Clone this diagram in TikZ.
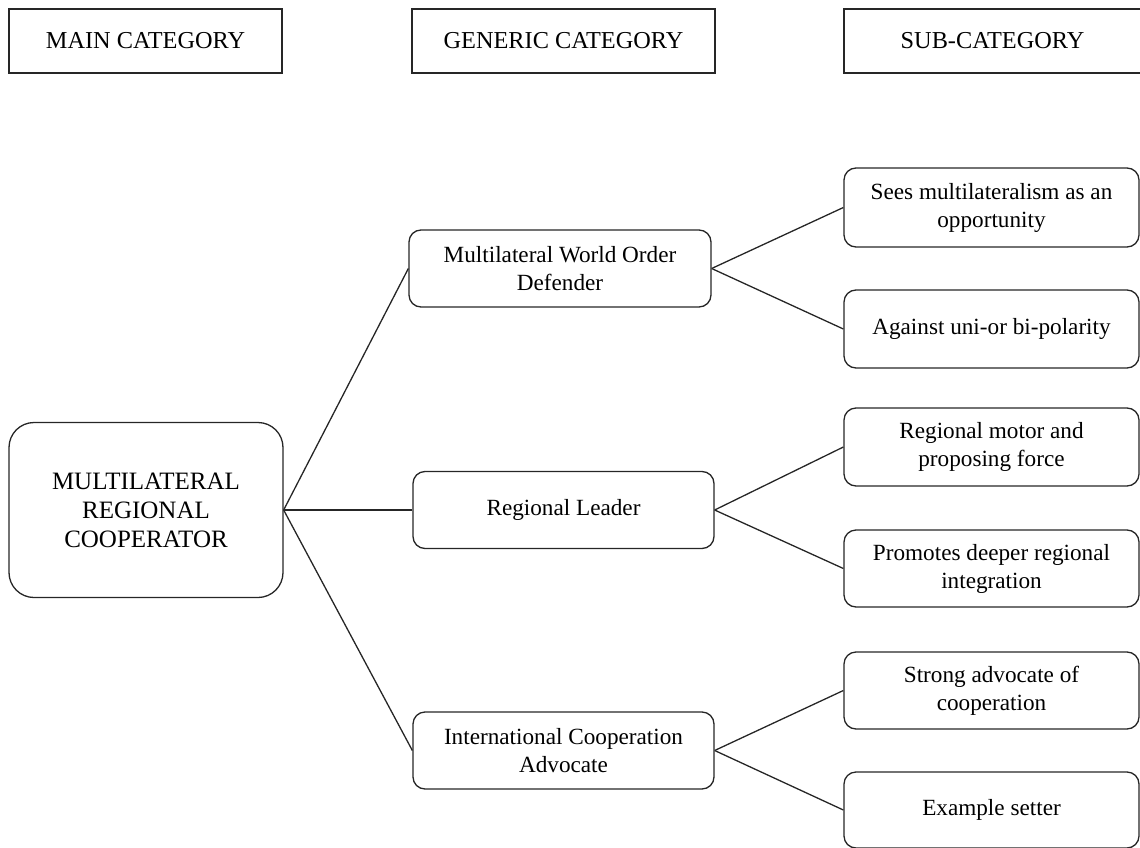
\documentclass[tikz,border=0pt]{standalone}
\usepackage{fontspec}
\setmainfont{Liberation Serif}
\begin{document}
\begin{tikzpicture}[x=1pt,y=-1pt,
  box/.style={draw=black!85, line width=1.3pt, rounded corners=12pt, align=center, inner sep=0pt, font=\fontsize{23.2}{28}\selectfont},
  head/.style={draw=black!85, line width=1.3pt, align=center, inner sep=0pt, minimum height=64pt, font=\fontsize{24.3}{28}\selectfont},
  gen/.style={box, minimum width=301pt, minimum height=77pt},
  sub/.style={box, minimum width=295pt, minimum height=78pt},
  link/.style={draw=black!85, line width=1.3pt}]
\useasboundingbox (0,0) rectangle (1140,848);
% headers
\node[head, minimum width=273pt] (h1) at (145.5,41) {MAIN CATEGORY};
\node[head, minimum width=303pt] (h2) at (563.5,41) {GENERIC CATEGORY};
\node[head, minimum width=297pt] (h3) at (992.5,41) {SUB-CATEGORY};
% main
\node[box, rounded corners=25pt, minimum width=274pt, minimum height=175pt,
      font=\fontsize{25}{29}\selectfont] (m) at (146,510) {MULTILATERAL\\REGIONAL\\COOPERATOR};
% generic
\node[gen, minimum width=302pt] (g1) at (560,268.5) {Multilateral World Order\\Defender};
\node[gen] (g2) at (563.5,510) {Regional Leader};
\node[gen] (g3) at (563.5,750.5) {International Cooperation\\Advocate};
% sub
\node[sub, minimum height=79pt] (s1) at (991.5,207.5) {Sees multilateralism as an\\opportunity};
\node[sub] (s2) at (991.5,329) {Against uni-or bi-polarity};
\node[sub] (s3) at (991.5,447) {Regional motor and\\proposing force};
\node[sub, minimum height=77pt] (s4) at (991.5,568.5) {Promotes deeper regional\\integration};
\node[sub, minimum height=77pt] (s5) at (991.5,690.5) {Strong advocate of\\cooperation};
\node[sub, minimum height=76pt] (s6) at (991.5,810) {Example setter};
% links
\draw[link] (m.east) -- (g1.west);
\draw[link] (m.east) -- (g2.west);
\draw[link] (m.east) -- (g3.west);
\draw[link] (g1.east) -- (s1.west);
\draw[link] (g1.east) -- (s2.west);
\draw[link] (g2.east) -- (s3.west);
\draw[link] (g2.east) -- (s4.west);
\draw[link] (g3.east) -- (s5.west);
\draw[link] (g3.east) -- (s6.west);
\end{tikzpicture}
\end{document}
